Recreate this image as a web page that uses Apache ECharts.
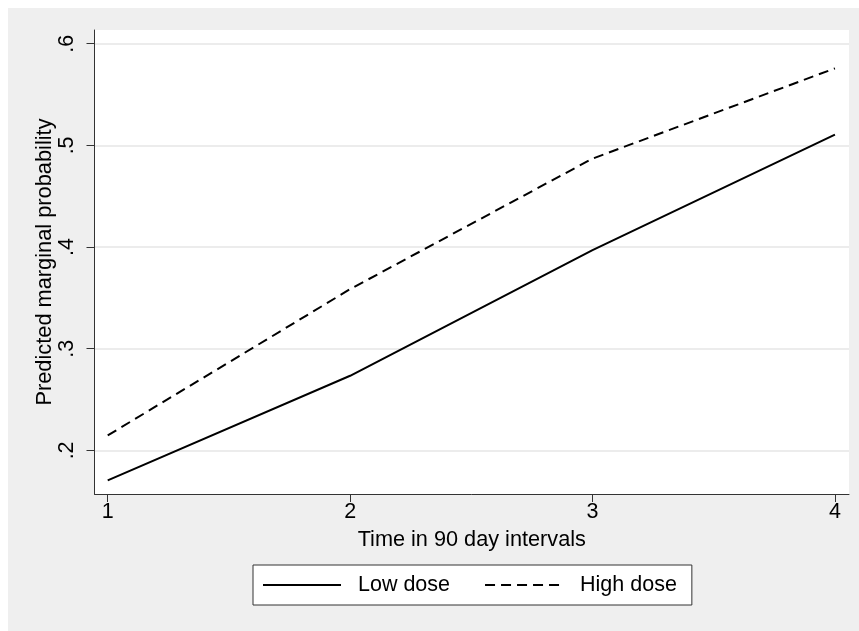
<!DOCTYPE html>
<html>
<head>
<meta charset="utf-8">
<script src="https://cdn.jsdelivr.net/npm/echarts@6/dist/echarts.min.js"></script>
<style>
html,body{margin:0;padding:0;background:#ffffff;}
#main{position:absolute;left:8px;top:8px;width:851px;height:623px;}
</style>
</head>
<body>
<div id="main"></div>
<script>
var timePoints = [1, 2, 3, 4];
var lowDose = [0.1705, 0.2734, 0.397, 0.5105];
var highDose = [0.2147, 0.3586, 0.487, 0.5758];
var yTicks = [0.2, 0.3, 0.4, 0.5, 0.6];
var yTickLabels = ['.2', '.3', '.4', '.5', '.6'];
var xTicks = [1, 2, 3, 4];
var seriesNames = ['Low dose', 'High dose'];

function pairs(vals) {
  return timePoints.map(function (t, i) { return [t, vals[i]]; });
}

var font = 'Liberation Sans, Arial, Helvetica, sans-serif';
var chart = echarts.init(document.getElementById('main'), null, {renderer: 'canvas'});
chart.setOption({
  backgroundColor: '#efefef',
  animation: false,
  grid: {
    left: 86.5, right: 10, top: 22, bottom: 137,
    show: true, backgroundColor: '#ffffff', borderWidth: 0
  },
  legend: {
    left: 245, top: 557,
    orient: 'horizontal',
    backgroundColor: '#ffffff',
    borderColor: '#333333', borderWidth: 1, borderRadius: 0,
    padding: [9, 15, 9, 9],
    itemWidth: 78, itemHeight: 14, itemGap: 34,
    itemStyle: {opacity: 0, borderWidth: 0},
    textStyle: {fontFamily: font, fontSize: 21.5, color: '#000', padding: [0, 0, 0, 12]},
    data: seriesNames
  },
  xAxis: {
    type: 'value',
    min: 0.9455, max: 4.058,
    name: 'Time in 90 day intervals',
    nameLocation: 'middle', nameGap: 35, nameMoveOverlap: false,
    nameTextStyle: {fontFamily: font, fontSize: 21.7, color: '#000'},
    axisLine: {show: true, lineStyle: {color: '#333333', width: 1}},
    axisTick: {show: true, length: 8, lineStyle: {color: '#333333'}, customValues: xTicks},
    axisLabel: {fontFamily: font, fontSize: 21.5, color: '#000', margin: 7, customValues: xTicks},
    splitLine: {show: false}
  },
  yAxis: {
    type: 'value',
    min: 0.1571, max: 0.6135,
    name: 'Predicted marginal probability',
    nameLocation: 'middle', nameGap: 39, nameRotate: 90, nameMoveOverlap: false,
    nameTextStyle: {fontFamily: font, fontSize: 21.8, color: '#000'},
    axisLine: {show: true, lineStyle: {color: '#333333', width: 1}},
    axisTick: {show: true, length: 8, lineStyle: {color: '#333333'}, customValues: yTicks},
    axisLabel: {
      fontFamily: font, fontSize: 21.5, color: '#000', margin: 16, rotate: 90,
      customValues: yTicks,
      formatter: function (v) {
        var idx = yTicks.findIndex(function (t) { return Math.abs(t - v) < 1e-9; });
        return idx >= 0 ? yTickLabels[idx] : '';
      }
    },
    splitLine: {show: true, lineStyle: {color: '#e6e6e6', width: 1.5}}
  },
  series: [
    {
      name: seriesNames[0], type: 'line', data: pairs(lowDose),
      symbol: 'none', color: '#000',
      lineStyle: {color: '#000', width: 2, type: 'solid'}
    },
    {
      name: seriesNames[1], type: 'line', data: pairs(highDose),
      symbol: 'none', color: '#000',
      lineStyle: {color: '#000', width: 2, type: [10, 6]}
    }
  ]
});
</script>
</body>
</html>
